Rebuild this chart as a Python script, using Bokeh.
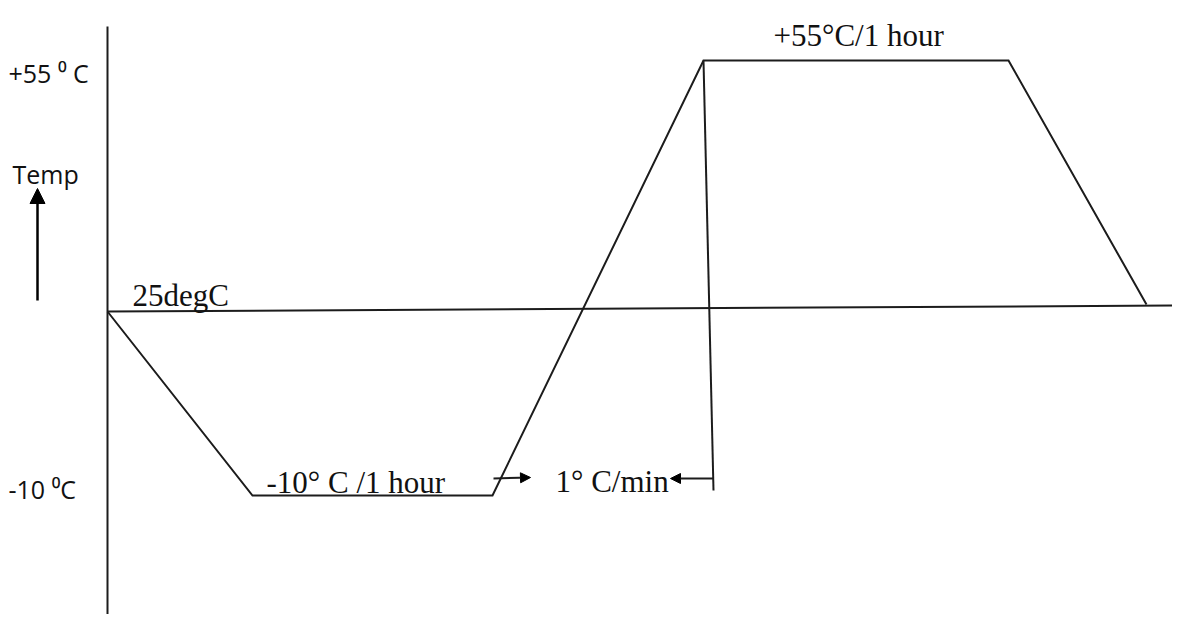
from bokeh.plotting import figure
from bokeh.models import Range1d, Arrow, NormalHead, ColumnDataSource
from bokeh.core.properties import value
from bokeh.embed import file_html
from bokeh.resources import INLINE

# Schematic temperature profile (diagram units)
profile_x = [107, 252, 492, 703, 1008, 1146]
profile_y = [311, 495, 495, 60, 60, 304]

# 25 degC reference line
ref_x = [107, 1188]
ref_y = [311, 305]

# 1 degC/min ramp marker line
ramp_x = [703, 713]
ramp_y = [60, 490]

# Temperature axis line
axis_x = [107, 107]
axis_y = [26, 640]

sans_labels = ["+55 \u2070 C", "Temp", "-10 \u2070C"]
sans_x = [8, 12, 8]
sans_y = [72, 173, 488]

serif_labels = ["25degC", "+55\u00b0C/1 hour", "-10\u00b0 C /1 hour", "1\u00b0 C/min"]
serif_x = [132, 773, 266, 555]
serif_y = [295, 35, 482, 481]

LINE = "#1c1c1c"

W, H = 1172, 614
p = figure(width=W, height=H, x_range=Range1d(0, W), y_range=Range1d(H, 0),
           output_backend="svg", toolbar_location=None,
           x_axis_location=None, y_axis_location=None, min_border=0)
p.grid.visible = False
p.outline_line_color = None
p.background_fill_color = "white"
p.border_fill_color = "white"

p.line(axis_x, axis_y, line_color=LINE, line_width=2)
p.line(ref_x, ref_y, line_color=LINE, line_width=2)
p.line(profile_x, profile_y, line_color=LINE, line_width=2, line_join="miter")
p.line(ramp_x, ramp_y, line_color=LINE, line_width=2)

# Temp arrow
p.add_layout(Arrow(x_start=37, y_start=300, x_end=37, y_end=188, line_color="black", line_width=2.5,
                   end=NormalHead(size=15, fill_color="black", line_color="black")))
# ramp arrows
p.add_layout(Arrow(x_start=493, y_start=478, x_end=530, y_end=477, line_color=LINE, line_width=2,
                   end=NormalHead(size=10, fill_color="black", line_color="black")))
p.add_layout(Arrow(x_start=713, y_start=478, x_end=670, y_end=478, line_color=LINE, line_width=2,
                   end=NormalHead(size=10, fill_color="black", line_color="black")))

s1 = ColumnDataSource(dict(x=sans_x, y=sans_y, t=sans_labels))
p.text(x="x", y="y", text="t", source=s1, text_font=value("Open Sans"), text_font_size="25px",
       text_color="#111111", text_align="left", text_baseline="alphabetic")

s2 = ColumnDataSource(dict(x=serif_x, y=serif_y, t=serif_labels))
p.text(x="x", y="y", text="t", source=s2, text_font=value("Liberation Serif"), text_font_size="31px",
       text_color="#111111", text_align="left", text_baseline="alphabetic")

open("out.html", "w").write(file_html(p, INLINE))
